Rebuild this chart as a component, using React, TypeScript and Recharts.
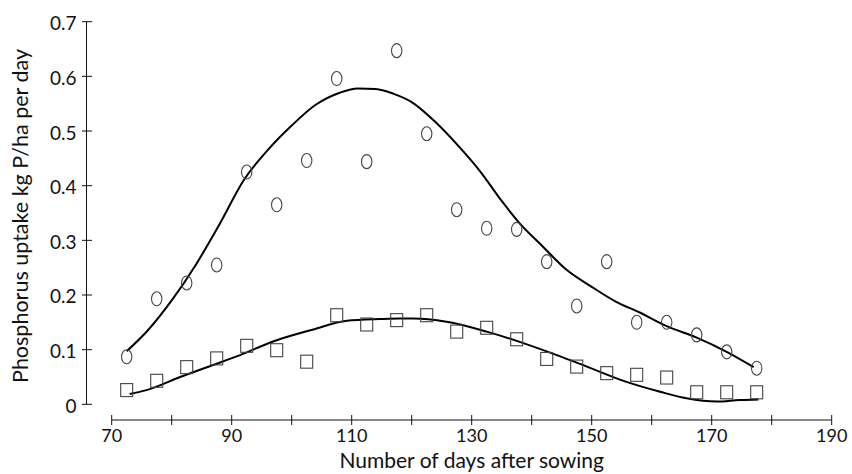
import React from "react";
import {
  ComposedChart,
  Line,
  Scatter,
  XAxis,
  YAxis,
  ReferenceLine,
  Label,
} from "recharts";

// ---- data ----
const sampleDays = [
  72.5, 77.5, 82.5, 87.5, 92.5, 97.5, 102.5, 107.5, 112.5, 117.5, 122.5,
  127.5, 132.5, 137.5, 142.5, 147.5, 152.5, 157.5, 162.5, 167.5, 172.5, 177.5,
];
const circleUptake = [
  0.087, 0.193, 0.222, 0.255, 0.425, 0.365, 0.446, 0.596, 0.444, 0.647, 0.495,
  0.356, 0.322, 0.32, 0.261, 0.18, 0.261, 0.15, 0.15, 0.127, 0.096, 0.066,
];
const squareUptake = [
  0.026, 0.043, 0.068, 0.084, 0.107, 0.099, 0.078, 0.163, 0.146, 0.154, 0.163,
  0.133, 0.14, 0.119, 0.083, 0.069, 0.057, 0.054, 0.049, 0.022, 0.022, 0.022,
];
const upperCurveDays = [
  72.5, 76, 80, 84, 88, 92, 96, 100, 104, 108, 111, 114, 117, 120, 124, 128,
  131.5, 135, 138, 142, 145.5, 150, 154, 158, 162.5, 167.5, 172.5, 177,
];
const upperCurveUptake = [
  0.097, 0.135, 0.19, 0.255, 0.33, 0.41, 0.465, 0.51, 0.548, 0.57, 0.578,
  0.577, 0.568, 0.553, 0.516, 0.47, 0.425, 0.372, 0.331, 0.287, 0.249, 0.215,
  0.188, 0.168, 0.143, 0.122, 0.096, 0.068,
];
const lowerCurveDays = [
  73, 75.8, 81.4, 86.9, 91.4, 96.9, 103.6, 109.2, 114.7, 118, 120.3, 125.8,
  132.5, 138.6, 144.2, 149.2, 155.8, 161.4, 165.8, 170.8, 174.7, 177.8,
];
const lowerCurveUptake = [
  0.019, 0.026, 0.05, 0.072, 0.09, 0.115, 0.137, 0.153, 0.156, 0.157, 0.157,
  0.151, 0.133, 0.112, 0.09, 0.069, 0.041, 0.023, 0.011, 0.005, 0.008, 0.009,
];
const xTicks = [70, 80, 90, 100, 110, 120, 130, 140, 150, 160, 170, 180, 190];
const xLabelled = [70, 90, 110, 130, 150, 170, 190];
const yTicks = [0, 0.1, 0.2, 0.3, 0.4, 0.5, 0.6, 0.7];
const yTickLabels = ["0", "0.1", "0.2", "0.3", "0.4", "0.5", "0.6", "0.7"];
const xTitle = "Number of days after sowing";
const yTitle = "Phosphorus uptake kg P/ha per day";

const circleData = sampleDays.map((x, i) => ({ x, y: circleUptake[i] }));
const squareData = sampleDays.map((x, i) => ({ x, y: squareUptake[i] }));
const upperCurve = upperCurveDays.map((x, i) => ({ x, y: upperCurveUptake[i] }));
const lowerCurve = lowerCurveDays.map((x, i) => ({ x, y: lowerCurveUptake[i] }));

const X_MIN = 65.8;
const X_MAX = 190;
const Y_MIN = -0.0287;
const Y_MAX = 0.7;

const FONT = "Lato, 'Open Sans', sans-serif";
const INK = "#111";

const XTick = (props: any) => {
  const { x, y, payload } = props;
  const v = payload.value;
  return (
    <g>
      <line x1={x} x2={x} y1={y - 5} y2={y + 5} stroke={INK} strokeWidth={1} />
      {xLabelled.includes(v) && (
        <text
          x={x}
          y={y + 21.7}
          textAnchor="middle"
          fontFamily={FONT}
          fontSize={18}
          fill={INK}
        >
          {String(v)}
        </text>
      )}
    </g>
  );
};

const YTick = (props: any) => {
  const { x, y, payload } = props;
  const idx = yTicks.indexOf(payload.value);
  return (
    <g>
      <line x1={x - 4.5} x2={x + 5.5} y1={y} y2={y} stroke={INK} strokeWidth={1} />
      <text
        x={x - 10}
        y={y + 1}
        textAnchor="end"
        dominantBaseline="central"
        fontFamily={FONT}
        fontSize={19}
        fill={INK}
      >
        {idx >= 0 ? yTickLabels[idx] : ""}
      </text>
    </g>
  );
};

const Ellipse = (props: any) => {
  const { cx, cy } = props;
  if (cx == null || cy == null) return null;
  return (
    <ellipse cx={cx} cy={cy} rx={5.2} ry={7} fill="none" stroke="#444" strokeWidth={1.1} />
  );
};

const Square = (props: any) => {
  const { cx, cy } = props;
  if (cx == null || cy == null) return null;
  return (
    <rect x={cx - 6} y={cy - 6.5} width={12} height={13} fill="none" stroke="#444" strokeWidth={1.1} />
  );
};

export default function App() {
  return (
    <div style={{ position: "absolute", left: 0, top: 0, width: 852, height: 474, background: "#fff" }}>
      <ComposedChart
        width={852}
        height={474}
        margin={{ top: 21.7, right: 20.3, left: 0, bottom: 0 }}
      >
        <XAxis
          type="number"
          dataKey="x"
          domain={[X_MIN, X_MAX]}
          ticks={xTicks}
          interval={0}
          allowDataOverflow
          height={54}
          axisLine={false}
          tickLine={false}
          tickSize={0}
          tickMargin={0}
          tick={XTick}
        >
          <Label
            content={() => (
              <text
                x={471.7}
                y={468}
                textAnchor="middle"
                fontFamily={FONT}
                fontSize={21}
                fill={INK}
              >
                {xTitle}
              </text>
            )}
          />
        </XAxis>
        <YAxis
          type="number"
          dataKey="y"
          domain={[Y_MIN, Y_MAX]}
          ticks={yTicks}
          interval={0}
          allowDataOverflow
          width={86.5}
          axisLine={false}
          tickLine={false}
          tickSize={0}
          tickMargin={0}
          tick={YTick}
        >
          <Label
            content={() => (
              <text
                x={20}
                y={216}
                transform="rotate(-90, 20, 216)"
                textAnchor="middle"
                dominantBaseline="central"
                fontFamily={FONT}
                fontSize={21.5}
                fill={INK}
              >
                {yTitle}
              </text>
            )}
          />
        </YAxis>
        <ReferenceLine
          segment={[{ x: X_MIN, y: 0 }, { x: X_MIN, y: Y_MAX }]}
          stroke={INK}
          strokeWidth={1}
          ifOverflow="visible"
        />
        <ReferenceLine
          segment={[{ x: 70, y: Y_MIN }, { x: X_MAX, y: Y_MIN }]}
          stroke={INK}
          strokeWidth={1}
          ifOverflow="visible"
        />
        <Line
          data={upperCurve}
          dataKey="y"
          type="monotone"
          stroke="#000"
          strokeWidth={2}
          dot={false}
          activeDot={false}
          isAnimationActive={false}
        />
        <Line
          data={lowerCurve}
          dataKey="y"
          type="monotone"
          stroke="#000"
          strokeWidth={2}
          dot={false}
          activeDot={false}
          isAnimationActive={false}
        />
        <Scatter data={circleData} dataKey="y" shape={Ellipse} isAnimationActive={false} />
        <Scatter data={squareData} dataKey="y" shape={Square} isAnimationActive={false} />
      </ComposedChart>
    </div>
  );
}
